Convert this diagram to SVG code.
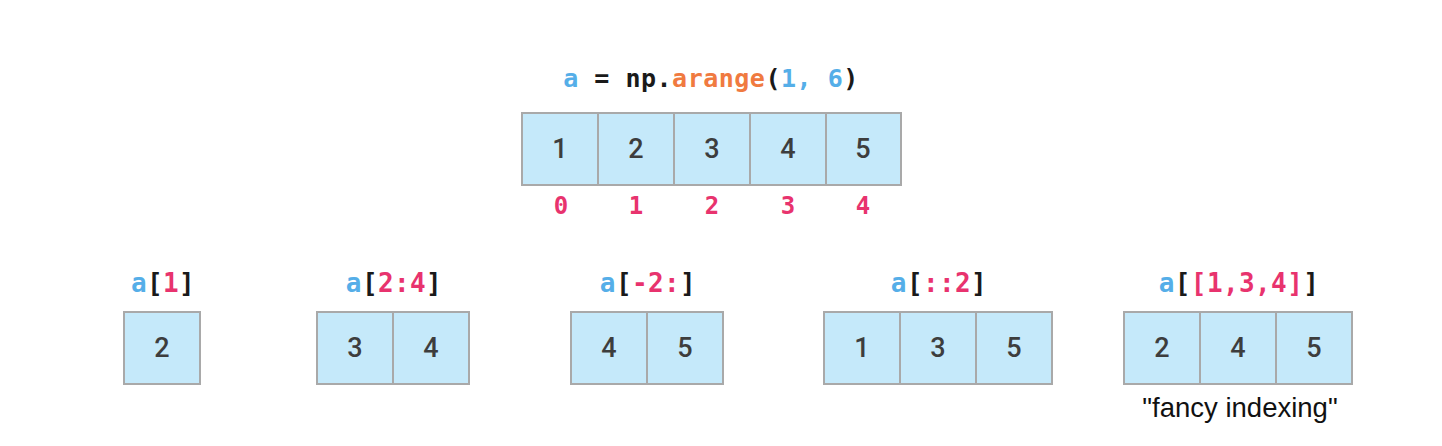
<svg xmlns="http://www.w3.org/2000/svg" width="1442" height="446" viewBox="0 0 1442 446">
<style>
.cell{fill:#c5e9fa;stroke:#a9a9a9;stroke-width:2}
.num{font-family:Roboto,"Liberation Sans",sans-serif;font-size:27px;font-weight:500;fill:#3d3d3d;text-anchor:middle}
.code{font-family:"DejaVu Sans Mono","Liberation Mono",monospace;font-weight:bold;text-anchor:middle}
.title{font-size:25px;letter-spacing:0.5px}
.lbl{font-size:26px;letter-spacing:0.4px}
.idx{font-family:"DejaVu Sans Mono","Liberation Mono",monospace;font-weight:bold;font-size:24px;fill:#e8336e;text-anchor:middle}
.b{fill:#55aee8}.p{fill:#e8336e}.o{fill:#f07a40}.k{fill:#1a1a1a}
.note{font-family:"Liberation Sans",Arial,sans-serif;font-size:27.5px;fill:#111;text-anchor:middle}
</style>
<rect width="1442" height="446" fill="#fff"/>
<g id="source">
<text class="code title" x="711" y="87"><tspan class="b">a</tspan><tspan class="k"> = np.</tspan><tspan class="o">arange</tspan><tspan class="k">(</tspan><tspan class="b">1, 6</tspan><tspan class="k">)</tspan></text>
<rect class="cell" x="522" y="113" width="76" height="72"/>
<rect class="cell" x="598" y="113" width="76" height="72"/>
<rect class="cell" x="674" y="113" width="76" height="72"/>
<rect class="cell" x="750" y="113" width="76" height="72"/>
<rect class="cell" x="826" y="113" width="75" height="72"/>
<text class="num" x="560" y="158">1</text>
<text class="num" x="636" y="158">2</text>
<text class="num" x="712" y="158">3</text>
<text class="num" x="788" y="158">4</text>
<text class="num" x="863" y="158">5</text>
<text class="idx" x="561" y="214">0</text>
<text class="idx" x="636" y="214">1</text>
<text class="idx" x="712" y="214">2</text>
<text class="idx" x="788" y="214">3</text>
<text class="idx" x="863" y="214">4</text>
</g>
<g id="index1">
<text class="code lbl" x="163" y="292"><tspan class="b">a</tspan><tspan class="k">[</tspan><tspan class="p">1</tspan><tspan class="k">]</tspan></text>
<rect class="cell" x="124" y="312" width="76" height="72"/>
<text class="num" x="162" y="357">2</text>
</g>
<g id="slice24">
<text class="code lbl" x="394" y="292"><tspan class="b">a</tspan><tspan class="k">[</tspan><tspan class="p">2:4</tspan><tspan class="k">]</tspan></text>
<rect class="cell" x="317" y="312" width="76" height="72"/>
<rect class="cell" x="393" y="312" width="76" height="72"/>
<text class="num" x="355" y="357">3</text>
<text class="num" x="431" y="357">4</text>
</g>
<g id="sliceneg">
<text class="code lbl" x="648" y="292"><tspan class="b">a</tspan><tspan class="k">[</tspan><tspan class="p">-2:</tspan><tspan class="k">]</tspan></text>
<rect class="cell" x="571" y="312" width="76" height="72"/>
<rect class="cell" x="647" y="312" width="76" height="72"/>
<text class="num" x="609" y="357">4</text>
<text class="num" x="685" y="357">5</text>
</g>
<g id="slicestep">
<text class="code lbl" x="939" y="292"><tspan class="b">a</tspan><tspan class="k">[</tspan><tspan class="p">::2</tspan><tspan class="k">]</tspan></text>
<rect class="cell" x="824" y="312" width="76" height="72"/>
<rect class="cell" x="900" y="312" width="76" height="72"/>
<rect class="cell" x="976" y="312" width="76" height="72"/>
<text class="num" x="862" y="357">1</text>
<text class="num" x="938" y="357">3</text>
<text class="num" x="1014" y="357">5</text>
</g>
<g id="fancy">
<text class="code lbl" x="1239" y="292"><tspan class="b">a</tspan><tspan class="k">[</tspan><tspan class="p">[1,3,4]</tspan><tspan class="k">]</tspan></text>
<rect class="cell" x="1124" y="312" width="76" height="72"/>
<rect class="cell" x="1200" y="312" width="76" height="72"/>
<rect class="cell" x="1276" y="312" width="76" height="72"/>
<text class="num" x="1162" y="357">2</text>
<text class="num" x="1238" y="357">4</text>
<text class="num" x="1314" y="357">5</text>
<text class="note" x="1240" y="417">"fancy indexing"</text>
</g>
<g id="connectors"></g>
</svg>
